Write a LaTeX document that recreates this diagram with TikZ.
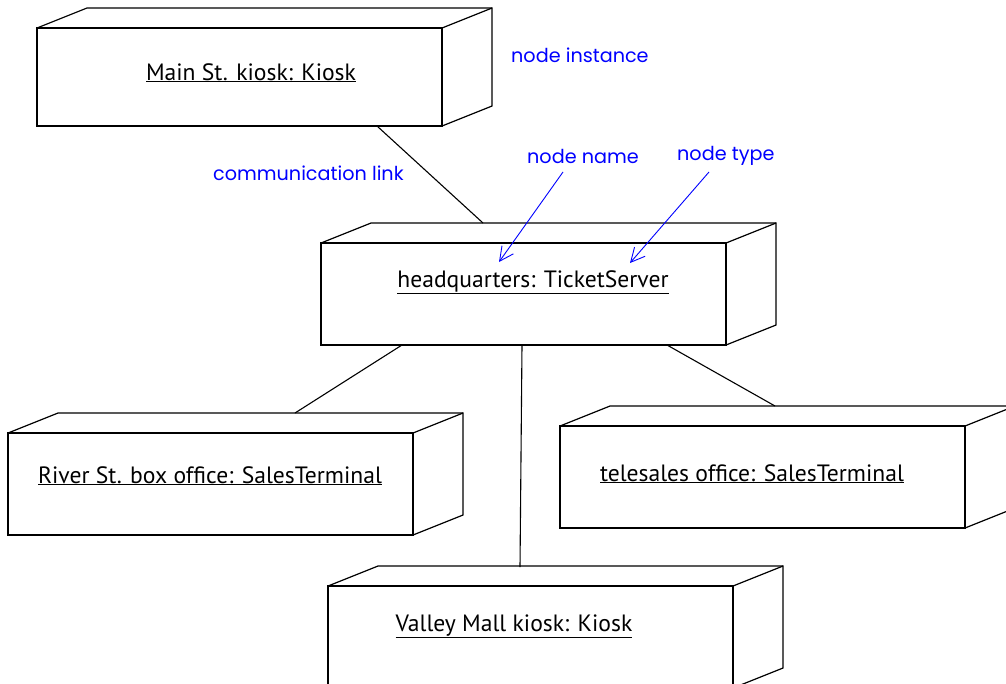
\documentclass[tikz,border=0pt]{standalone}
\usepackage{fontspec}
\setmainfont{PT Sans}
\newfontfamily\notefont{Poppins}
\usetikzlibrary{calc,arrows.meta}
\tikzset{
  devbox/.style={draw, line width=1.2pt, rectangle, inner sep=0pt, outer sep=0pt,
    minimum width=405pt, minimum height=102pt, anchor=north west},
  devlabel/.style={anchor=base, inner sep=0pt, font=\fontsize{23.6}{27}\selectfont},
  link/.style={line width=1.1pt},
  note/.style={text=blue, inner sep=0pt, font=\notefont\fontsize{19.2}{22}\selectfont},
  pointer/.style={blue, line width=0.9pt, -{Straight Barb[length=14pt,width=14pt]}}
}
\newcommand\depthof[1]{%
  \draw[line width=1.2pt] (#1.north west) -- ++(50,-20) -- ($(#1.north east)+(50,-20)$)
    -- ($(#1.south east)+(50,-20)$) -- (#1.south east);
  \draw[line width=1.2pt] (#1.north east) -- ++(50,-20);}
\begin{document}
\begin{tikzpicture}[x=1pt,y=-1pt]
\useasboundingbox (0,0) rectangle (1006,683);
\clip (0,0) rectangle (1006,683);
\fill[white] (0,0) rectangle (1006,683);
% boxes
\node[devbox, minimum height=98pt] (main) at (37,28) {};
\node[devbox] (hq) at (321,243) {};
\node[devbox] (river) at (8,433) {};
\node[devbox] (tele) at (560,426) {};
\node[devbox] (valley) at (328,586) {};
\foreach \b in {main,hq,river,tele,valley} {\depthof{\b}}
% labels
\node[devlabel] (tmain) at (251,80) {\underline{Main St. kiosk: Kiosk}};
\node[devlabel] (thq) at (533,287) {\underline{headquarters: TicketServer}};
\node[devlabel] (triver) at (210,483) {\underline{River St. box office: SalesTerminal}};
\node[devlabel] (ttele) at (752,481) {\underline{telesales office: SalesTerminal}};
\node[devlabel] (tvalley) at (514,631) {\underline{Valley Mall kiosk: Kiosk}};
% connectors
\draw[link] ($(main.south west)+(340,0)$) -- ($(hq.north west)+(162,-20)$);
\draw[link] ($(hq.south west)+(81,0)$) -- ($(river.north west)+(287,-20)$);
\draw[link] ($(hq.south west)+(201,0)$) -- ($(valley.north west)+(192,-19)$);
\draw[link] ($(hq.south west)+(346,0)$) -- ($(tele.north west)+(215,-20)$);
% notes
\node[note, anchor=west] (ninst) at (511,55) {node instance};
\node[note, anchor=west] (ncomm) at (213,173) {communication link};
\node[note, anchor=west] (nname) at (527,156) {node name};
\node[note, anchor=west] (ntype) at (677,156) {node type};
\coordinate (tipname) at ($(thq.base)+(-34,-25)$);
\coordinate (tiptype) at ($(thq.base)+(97,-24)$);
\draw[pointer] ($(nname.west)+(36,16)$) -- (tipname);
\draw[pointer] ($(ntype.west)+(32,16)$) -- (tiptype);
\end{tikzpicture}
\end{document}
